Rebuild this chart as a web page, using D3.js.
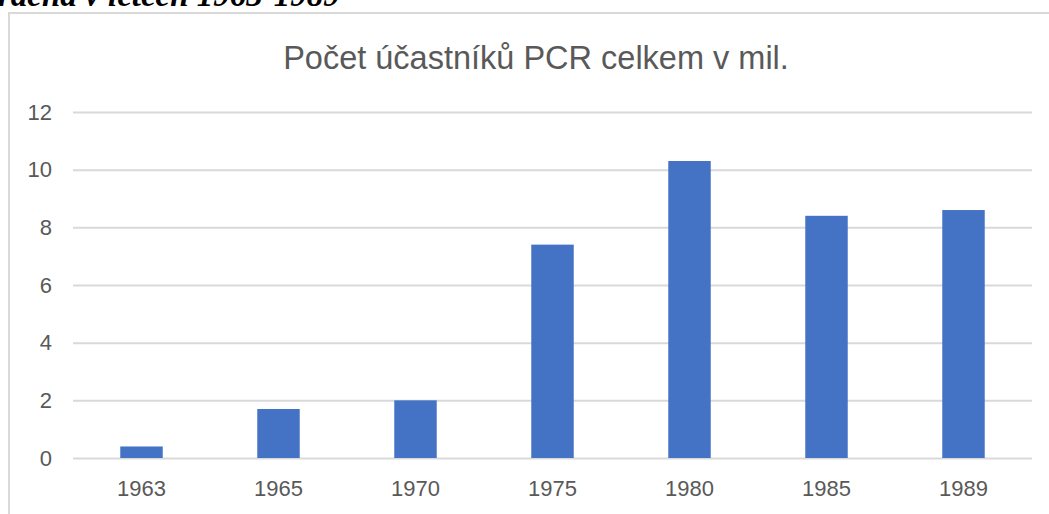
<!DOCTYPE html>
<html>
<head>
<meta charset="utf-8">
<script src="https://cdn.jsdelivr.net/npm/d3@7"></script>
<style>
  body { margin: 0; background: #fff; overflow: hidden; }
  svg { display: block; }
</style>
</head>
<body>
<svg id="chart"></svg>
<script>
const years = ["1963", "1965", "1970", "1975", "1980", "1985", "1989"];
const participants = [0.4, 1.7, 2.0, 7.4, 10.3, 8.4, 8.6];
const yTicks = [0, 2, 4, 6, 8, 10, 12];

const width = 1049, height = 514;
const margin = { top: 112, right: 17, bottom: 56, left: 73 };

const svg = d3.select("#chart").attr("width", width).attr("height", height);

// caption cut off at the top of the screenshot
svg.append("text")
  .attr("x", -2)
  .attr("y", 6)
  .attr("font-family", "Liberation Serif")
  .attr("font-weight", "bold")
  .attr("font-style", "italic")
  .attr("font-size", 33)
  .attr("fill", "#000")
  .text("rácha v letech 1963-1989");

// chart frame
svg.append("path")
  .attr("d", `M9,${height} V13 H${width}`)
  .attr("fill", "none")
  .attr("stroke", "#d9d9d9")
  .attr("stroke-width", 2);

svg.append("text")
  .attr("x", 536)
  .attr("y", 69)
  .attr("text-anchor", "middle")
  .attr("font-family", "Liberation Sans")
  .attr("font-size", 32.5)
  .attr("fill", "#595959")
  .text("Počet účastníků PCR celkem v mil.");

const x = d3.scaleBand()
  .domain(years)
  .range([margin.left, width - margin.right])
  .paddingInner(0.69)
  .paddingOuter(0.345);

const y = d3.scaleLinear()
  .domain([0, 12])
  .range([height - margin.bottom, margin.top]);

const grid = svg.append("g")
  .attr("transform", `translate(${margin.left},0)`)
  .call(d3.axisLeft(y).tickValues(yTicks).tickSize(-(width - margin.right - margin.left)).tickFormat(""));
grid.select(".domain").remove();
grid.selectAll("line").attr("stroke", "#d9d9d9").attr("stroke-width", 2);

svg.append("g")
  .selectAll("rect")
  .data(years)
  .join("rect")
  .attr("x", (d) => x(d))
  .attr("y", (d, i) => y(participants[i]))
  .attr("width", x.bandwidth())
  .attr("height", (d, i) => y(0) - y(participants[i]))
  .attr("fill", "#4472c4");

const yAxis = svg.append("g")
  .attr("transform", `translate(${margin.left},0)`)
  .call(d3.axisLeft(y).tickValues(yTicks).tickSize(0).tickPadding(21));
yAxis.select(".domain").remove();
yAxis.selectAll("text")
  .attr("font-family", "Liberation Sans")
  .attr("font-size", 22)
  .attr("fill", "#595959");

const xAxis = svg.append("g")
  .attr("transform", `translate(0,${height - margin.bottom})`)
  .call(d3.axisBottom(x).tickSize(0).tickPadding(22));
xAxis.select(".domain").remove();
xAxis.selectAll("text")
  .attr("font-family", "Liberation Sans")
  .attr("font-size", 22)
  .attr("fill", "#595959");
</script>
</body>
</html>
